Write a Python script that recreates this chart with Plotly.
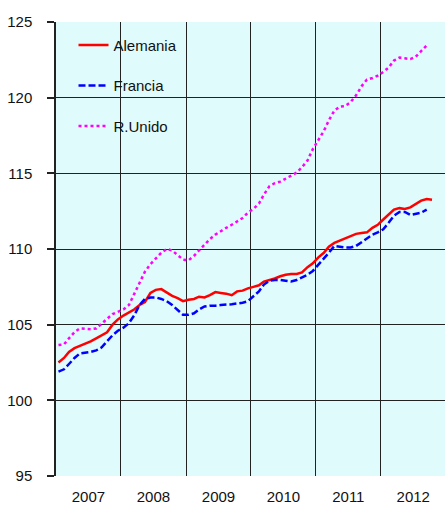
import pandas as pd
import plotly.graph_objects as go

alemania = [102.5, 102.8, 103.2, 103.45, 103.6, 103.75, 103.9, 104.1, 104.3, 104.5,
            105.0, 105.35, 105.6, 105.8, 106.0, 106.3, 106.5, 107.1, 107.3, 107.35,
            107.1, 106.9, 106.75, 106.55, 106.65, 106.7, 106.85, 106.8, 106.95, 107.15,
            107.1, 107.05, 106.95, 107.2, 107.25, 107.4, 107.5, 107.6, 107.85, 107.95,
            108.05, 108.2, 108.3, 108.35, 108.35, 108.45, 108.8, 109.05, 109.45, 109.75,
            110.15, 110.4, 110.55, 110.7, 110.85, 111.0, 111.05, 111.1, 111.4, 111.6,
            111.95, 112.3, 112.6, 112.7, 112.65, 112.75, 113.0, 113.2, 113.3, 113.25]

francia = [101.9, 102.05, 102.4, 102.8, 103.1, 103.15, 103.2, 103.3, 103.5, 103.9,
           104.3, 104.6, 104.8, 105.1, 105.6, 106.3, 106.7, 106.8, 106.8, 106.7,
           106.55, 106.3, 106.0, 105.65, 105.65, 105.75, 106.0, 106.2, 106.25, 106.25,
           106.3, 106.3, 106.35, 106.4, 106.45, 106.55, 106.85, 107.2, 107.65, 107.9,
           107.95, 107.95, 107.9, 107.85, 107.95, 108.1, 108.3, 108.55, 108.95, 109.4,
           109.75, 110.2, 110.15, 110.1, 110.1, 110.2, 110.45, 110.7, 110.95, 111.1,
           111.3, 111.75, 112.2, 112.45, 112.45, 112.25, 112.3, 112.4, 112.6]

reino_unido = [103.65, 103.7, 104.1, 104.5, 104.75, 104.7, 104.7, 104.75, 105.05, 105.4,
               105.7, 105.85, 106.0, 106.3, 107.0, 107.7, 108.5, 109.0, 109.4, 109.75,
               110.0, 109.9, 109.6, 109.3, 109.25, 109.55, 109.9, 110.3, 110.65, 110.95,
               111.2, 111.4, 111.6, 111.8, 112.05, 112.4, 112.65, 113.0, 113.6, 114.15,
               114.35, 114.45, 114.65, 114.8, 115.05, 115.4, 115.85, 116.6, 117.25, 117.8,
               118.5, 119.15, 119.4, 119.45, 119.7, 120.15, 120.75, 121.2, 121.3, 121.45,
               121.7, 122.0, 122.45, 122.65, 122.6, 122.55, 122.7, 123.1, 123.45]

months = pd.date_range("2007-01-01", periods=70, freq="MS") + pd.Timedelta(days=14)

fig = go.Figure()
fig.add_trace(go.Scatter(x=months[:len(alemania)], y=alemania, name="Alemania",
                         mode="lines", legendgroup="a",
                         line=dict(color="#FF0000", width=2.5)))
fig.add_trace(go.Scatter(x=months[:len(francia)], y=francia, name="Francia",
                         mode="lines", legendgroup="b",
                         line=dict(color="#0000FF", width=2.5, dash="7px,3px")))
fig.add_trace(go.Scatter(x=months[:len(reino_unido)], y=reino_unido, name="R.Unido",
                         mode="lines", legendgroup="c",
                         line=dict(color="#FF00FF", width=2.5, dash="dot")))

font = "Liberation Sans, Arial, sans-serif"
fig.update_layout(
    width=445, height=507,
    margin=dict(l=56, r=0, t=22, b=31),
    paper_bgcolor="white",
    plot_bgcolor="#DFFBFB",
    font=dict(family=font, size=15, color="#111111"),
    showlegend=True,
    legend=dict(x=0.045, y=0.985, xanchor="left", yanchor="top",
                bgcolor="rgba(0,0,0,0)", tracegroupgap=18,
                font=dict(size=15, color="#111111")),
    xaxis=dict(type="date", range=["2007-01-01", "2012-12-27"],
               dtick="M12", tick0="2007-01-01", tickformat="%Y",
               ticklabelmode="period", ticks="", showgrid=True,
               gridcolor="#222222", gridwidth=1, showline=False,
               zeroline=False, ticklabelstandoff=10, automargin=False),
    yaxis=dict(range=[95, 125], dtick=5, tick0=95, ticks="outside",
               ticklen=7, tickcolor="#222222", tickwidth=1.5,
               showgrid=True, gridcolor="#222222", gridwidth=1,
               showline=True, linecolor="#222222", linewidth=1.5,
               zeroline=False, ticklabelstandoff=12, automargin=False),
)

fig.write_html("out.html", config={"displayModeBar": False},
               post_script="document.body.style.margin='0';document.body.style.overflow='hidden';")
